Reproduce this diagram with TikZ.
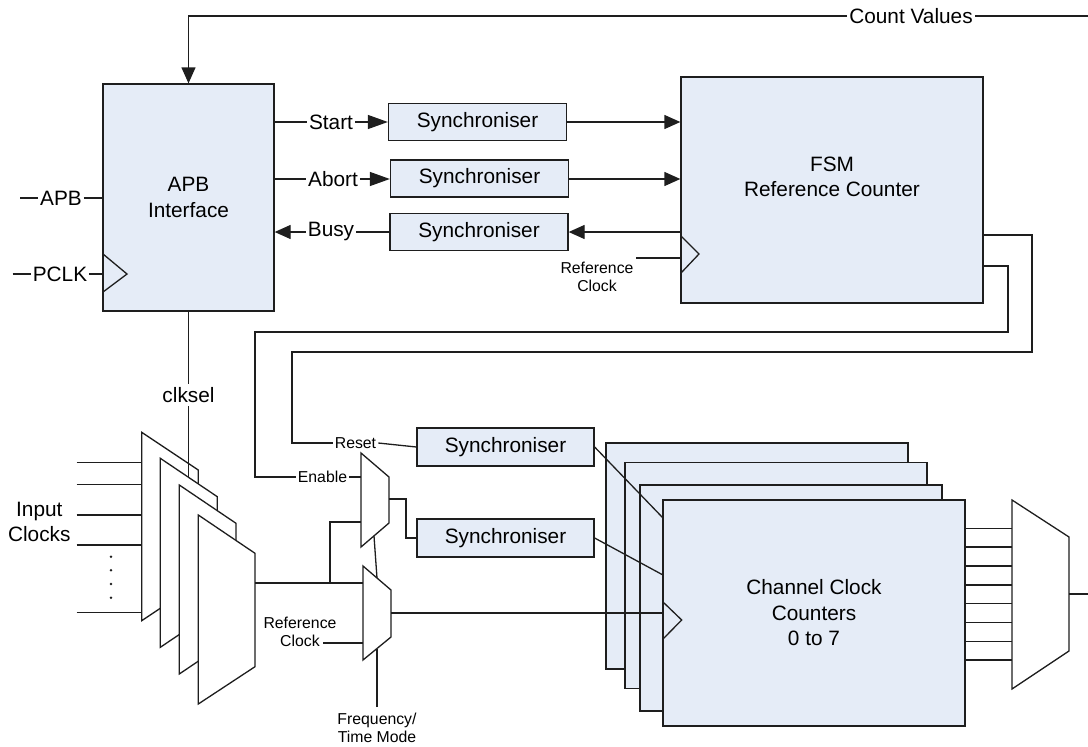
\documentclass[tikz,border=0pt]{standalone}
\usepackage{fontspec}
\setmainfont{Liberation Sans}
\usetikzlibrary{arrows.meta}
\definecolor{boxc}{HTML}{E5ECF7}
\definecolor{linec}{HTML}{1E1E1E}
\newcommand\fbig{\fontsize{20.8}{25.5}\selectfont}
\newcommand\fsmall{\fontsize{15.8}{18}\selectfont}
\begin{document}
\begin{tikzpicture}[x=1pt,y=-1pt,
  line width=1.3pt, draw=linec,
  blk/.style={draw=linec, fill=boxc, line width=1.3pt, font=\fbig, align=center, inner sep=0pt},
  syncbox/.style={blk, minimum width=178, minimum height=37},
  cntbox/.style={blk, minimum width=302, minimum height=226},
  wire/.style={draw=linec, line width=1.3pt},
  arr/.style={wire, -{Triangle[length=16pt,width=14pt]}},
  arrl/.style={wire, -{Triangle[length=20pt,width=14pt]}},
  lbl/.style={font=\fbig, inner sep=1.5pt, align=center},
  slbl/.style={font=\fsmall, inner sep=1.5pt, align=center},
  muxs/.style={draw=linec, fill=white, line width=1.3pt, line join=miter}
]
\useasboundingbox (0,0) rectangle (1088,747);

% ---------- APB interface ----------
\node[blk, minimum width=171, minimum height=227] (apb) at (188.5,197.5) {APB\\Interface};
\draw[wire] (103,254) -- (127,274) -- (103,292);
\node[lbl] (apbl) at (61,198) {APB};
\coordinate (apbin) at (20,198);
\draw[wire] (apbin) -- (apbl.west);
\draw[wire] (apbl.east) -- (apb.west |- apbl);
\node[lbl] (pclk) at (60,274) {PCLK};
\coordinate (pclkin) at (12.7,274);
\draw[wire] (pclkin) -- (pclk.west);
\draw[wire] (pclk.east) -- (apb.west |- pclk);

% ---------- Count values ----------
\node[lbl] (cv) at (911,16) {Count Values};
\coordinate (cvR) at (1088,16);
\draw[wire] (cvR) -- (cv.east);
\draw[arr] (cv.west) -| (apb.north);

% ---------- synchronisers (top) ----------
\node[syncbox] (sync1) at (477.5,122) {Synchroniser};
\node[syncbox] (sync2) at (479.5,178.5) {Synchroniser};
\node[syncbox] (sync3) at (479,232) {Synchroniser};

% ---------- FSM ----------
\node[cntbox] (fsm) at (832,190) {};
\node[font=\fbig, align=center, inner sep=0pt] (fsmt) at (832,177) {FSM\\Reference Counter};
\draw[wire] (681,236) -- (699,254) -- (681,273);

\node[lbl] (st) at (331,122) {Start};
\draw[wire] (apb.east |- st) -- (st.west);
\draw[arrl] (st.east) -- (sync1.west);
\draw[arr] (sync1.east) -- (fsm.west |- sync1.east);

\node[lbl] (ab) at (333,179) {Abort};
\draw[wire] (apb.east |- ab) -- (ab.west);
\draw[arrl] (ab.east) -- (sync2.west |- ab);
\draw[arr] (sync2.east |- ab) -- (fsm.west |- ab);

\node[lbl] (bz) at (331,232) {Busy};
\draw[arr] (bz.west) -- (apb.east |- bz);
\draw[wire] (sync3.west) -- (bz.east);
\draw[arr] (fsm.west |- sync3.east) -- (sync3.east);

\node[slbl] (rc1) at (597,277) {Reference\\Clock};
\coordinate (rc1s) at (636,258);
\draw[wire] (rc1s) -- (fsm.west |- rc1s);

% ---------- FSM outputs ----------
\node[slbl] (rs) at (355.5,443) {Reset};
\node[slbl] (en) at (322.5,477) {Enable};
\draw[wire] (fsm.east |- 0,235) -| (1032,352) -| (292,443) -- (rs.west);
\draw[wire] (fsm.east |- 0,266) -| (1008,332) -| (255,477) -- (en.west);

% ---------- lower synchronisers ----------
\node[syncbox, minimum width=177, minimum height=38] (sync4) at (505.5,447) {Synchroniser};
\node[syncbox, minimum width=177, minimum height=38] (sync5) at (505.5,538) {Synchroniser};
\draw[wire] (rs.east) -- (sync4.west);

% ---------- small muxes ----------
\draw[muxs] (361,453) -- (389,477) -- (389,523) -- (361,547) -- cycle;
\draw[muxs] (363,566) -- (391,590) -- (391,637) -- (363,660) -- cycle;
\draw[wire] (en.east) -- (361,477);
\draw[wire] (389,499) -- (406,499) |- (sync5.west);
\draw[wire] (374,536) -- (377,578);
\node[slbl] (rc2) at (300,632) {Reference\\Clock};
\coordinate (rc2s) at (323,643);
\draw[wire] (rc2s) -- (363,643);
\node[slbl] (fm) at (377,728) {Frequency/\\Time Mode};
\coordinate (fmt) at (377,707);
\draw[wire] (fmt) -- (377,648.5);

% ---------- clock select muxes ----------
\foreach \y in {462.3,484.7,515,545,612.7} {\draw[wire] (76.7,\y) -- (141.7,\y);}
\foreach \y in {556.7,570.3,584,597.7} {\fill[linec] (111,\y) circle (1.4);}
\node[lbl] (inclk) at (39.3,522) {Input\\Clocks};

\draw[muxs] (141.7,432.3) -- (198.3,470) -- (198.3,583) -- (141.7,620.7) -- cycle;
\node[lbl, inner sep=3pt] (cs) at (188.5,395) {clksel};
\draw[wire] (apb.south) -- (cs.north);
\draw[wire] (cs.south) -- (188.5,477);
\draw[muxs] (160.3,458.3) -- (217.3,496.7) -- (217.3,608.9) -- (160.3,647.3) -- cycle;
\draw[muxs] (179.3,485) -- (236,523.3) -- (236,635.7) -- (179.3,674) -- cycle;
\draw[muxs] (198.3,515) -- (255,553.3) -- (255,666.7) -- (198.3,704) -- cycle;

\draw[wire] (255,583) -- (363,583);
\draw[wire] (330,583) -- (330,522) -- (361,522);

% ---------- channel counters ----------
\node[cntbox] (cnt1) at (757,556) {};
\node[cntbox] (cnt2) at (776,575.3) {};
\node[cntbox] (cnt3) at (791,598) {};
\draw[wire] (391,613) -- (663,613);
\draw[wire] (sync4.east) -- (663,518);
\draw[wire] (sync5.east) -- (663,575);
\node[cntbox] (cnt) at (814,613) {Channel Clock\\Counters\\0 to 7};
\draw[wire] (662.7,601.7) -- (681.7,620) -- (662.7,639.3);

% ---------- output mux ----------
\foreach \y in {528.3,547,566,585,603.7,622.7,641.3,660} {\draw[wire] (cnt.east |- 0,\y) -- (1012,\y);}
\draw[muxs] (1012,500) -- (1069,537) -- (1069,651) -- (1012,689) -- cycle;
\coordinate (outR) at (1088,594);
\draw[wire] (1069,594) -- (outR);
\end{tikzpicture}
\end{document}
